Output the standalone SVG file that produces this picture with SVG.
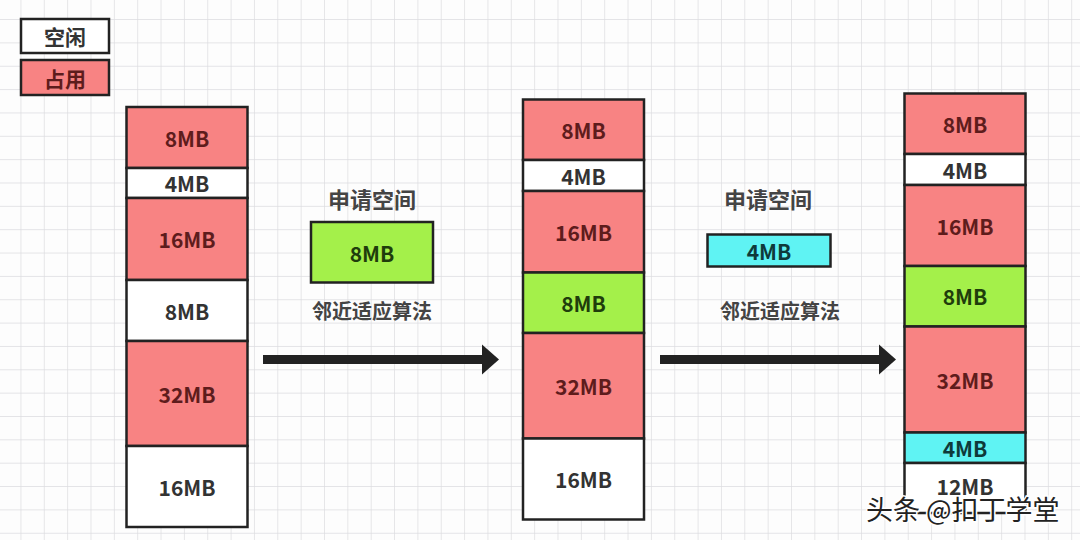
<svg xmlns="http://www.w3.org/2000/svg" width="1080" height="540" viewBox="0 0 1080 540">
<defs>
<pattern id="grid" patternUnits="userSpaceOnUse" x="20.45" y="19.05" width="23.35" height="23.35">
<path d="M0 0H23.35M0 0V23.35" fill="none" stroke="#dcdce0" stroke-width="1.4"/>
</pattern>
<marker id="head" markerUnits="userSpaceOnUse" markerWidth="20" markerHeight="32" refX="2" refY="16" orient="auto">
<path d="M0 1L17 16L0 31Z" fill="#222"/>
</marker>
</defs>
<style>
.blk{stroke:#222;stroke-width:2.5}
.free{fill:#ffffff}
.used{fill:#f88383}
.grn{fill:#a4f04a}
.cyn{fill:#5ff3f3}
.t{font-family:"Noto Sans CJK SC","Open Sans",sans-serif;font-weight:bold;font-size:21px;text-anchor:middle;dominant-baseline:central}
.tf{fill:#333}
.tu{fill:#5e1c1c}
.tg{fill:#1f3d0c}
.tc{fill:#0e3a3a}
.lbl{font-family:"Noto Sans CJK SC",sans-serif;font-weight:bold;text-anchor:middle;dominant-baseline:central;fill:#444}
</style>
<rect width="1080" height="540" fill="#fdfdfd"/>
<rect width="1080" height="540" fill="url(#grid)"/>

<g id="legend">
<g id="legend-free"><rect class="blk free" x="21" y="19" width="88" height="34"/><text class="t tf" x="65" y="36" font-size="20">空闲</text></g>
<g id="legend-used"><rect class="blk used" x="21" y="60" width="88" height="35"/><text class="t tu" x="65" y="77.5" font-size="20">占用</text></g>
</g>

<g id="col1">
<g id="c1b1"><rect class="blk used" x="126.5" y="107" width="121" height="61"/><text class="t tu" x="187" y="137.5">8MB</text></g>
<g id="c1b2"><rect class="blk free" x="126.5" y="168" width="121" height="30"/><text class="t tf" x="187" y="183">4MB</text></g>
<g id="c1b3"><rect class="blk used" x="126.5" y="198" width="121" height="82"/><text class="t tu" x="187" y="239">16MB</text></g>
<g id="c1b4"><rect class="blk free" x="126.5" y="280" width="121" height="61"/><text class="t tf" x="187" y="310.5">8MB</text></g>
<g id="c1b5"><rect class="blk used" x="126.5" y="341" width="121" height="105"/><text class="t tu" x="187" y="393.5">32MB</text></g>
<g id="c1b6"><rect class="blk free" x="126.5" y="446" width="121" height="81"/><text class="t tf" x="187" y="486.5">16MB</text></g>
</g>

<g id="col2">
<g id="c2b1"><rect class="blk used" x="523" y="99.5" width="121" height="60.5"/><text class="t tu" x="583.5" y="130">8MB</text></g>
<g id="c2b2"><rect class="blk free" x="523" y="160" width="121" height="31"/><text class="t tf" x="583.5" y="175.5">4MB</text></g>
<g id="c2b3"><rect class="blk used" x="523" y="191" width="121" height="81.5"/><text class="t tu" x="583.5" y="232">16MB</text></g>
<g id="c2b4"><rect class="blk grn" x="523" y="272.5" width="121" height="60.5"/><text class="t tg" x="583.5" y="302.5">8MB</text></g>
<g id="c2b5"><rect class="blk used" x="523" y="333" width="121" height="105.5"/><text class="t tu" x="583.5" y="385.5">32MB</text></g>
<g id="c2b6"><rect class="blk free" x="523" y="438.5" width="121" height="81"/><text class="t tf" x="583.5" y="479">16MB</text></g>
</g>

<g id="col3">
<g id="c3b1"><rect class="blk used" x="904.5" y="93.5" width="121" height="60.5"/><text class="t tu" x="965" y="124">8MB</text></g>
<g id="c3b2"><rect class="blk free" x="904.5" y="154" width="121" height="31"/><text class="t tf" x="965" y="169.5">4MB</text></g>
<g id="c3b3"><rect class="blk used" x="904.5" y="185" width="121" height="81"/><text class="t tu" x="965" y="225.5">16MB</text></g>
<g id="c3b4"><rect class="blk grn" x="904.5" y="266" width="121" height="60.5"/><text class="t tg" x="965" y="296">8MB</text></g>
<g id="c3b5"><rect class="blk used" x="904.5" y="326.5" width="121" height="106"/><text class="t tu" x="965" y="379.5">32MB</text></g>
<g id="c3b6"><rect class="blk cyn" x="904.5" y="432.5" width="121" height="30.5"/><text class="t tc" x="965" y="447.5">4MB</text></g>
<g id="c3b7"><rect class="blk free" x="904.5" y="463" width="121" height="50"/><text class="t tf" x="965" y="486">12MB</text></g>
</g>

<g id="req1">
<text class="lbl" x="372" y="198" font-size="22">申请空间</text>
<g id="req1-box"><rect class="blk grn" x="311" y="222" width="122" height="60.5"/><text class="t tg" x="372" y="252.5">8MB</text></g>
<text class="lbl" x="372" y="310" font-size="20">邻近适应算法</text>
</g>

<g id="req2">
<text class="lbl" x="768" y="198" font-size="22">申请空间</text>
<g id="req2-box"><rect class="blk cyn" x="707.5" y="234.5" width="123" height="32"/><text class="t tc" x="769" y="250.5">4MB</text></g>
<text class="lbl" x="780" y="310" font-size="20">邻近适应算法</text>
</g>

<g id="connectors">
<line x1="263" y1="359.5" x2="484" y2="359.5" stroke="#222" stroke-width="9" marker-end="url(#head)"/>
<line x1="660" y1="359.5" x2="881" y2="359.5" stroke="#222" stroke-width="9" marker-end="url(#head)"/>
</g>

<text x="866" y="520" font-family="Noto Sans CJK SC, sans-serif" font-size="27" fill="#222" stroke="#ffffff" stroke-width="3" paint-order="stroke">头条 @扣丁学堂</text>
</svg>
